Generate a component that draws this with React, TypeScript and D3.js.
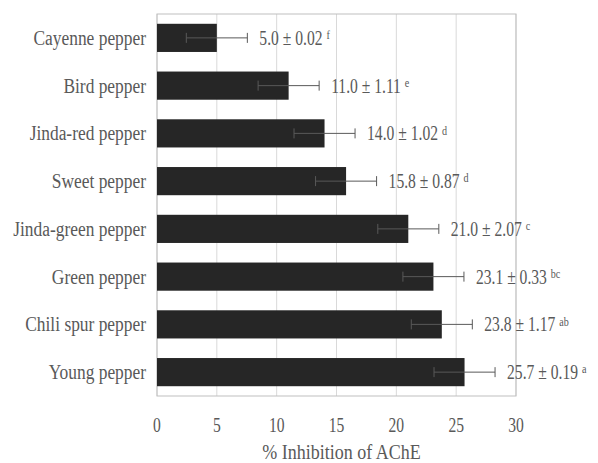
import React from "react";
import * as d3 from "d3";

const categories = [
  "Cayenne pepper",
  "Bird pepper",
  "Jinda-red pepper",
  "Sweet pepper",
  "Jinda-green pepper",
  "Green pepper",
  "Chili spur pepper",
  "Young pepper",
];
const values = [5.0, 11.0, 14.0, 15.8, 21.0, 23.1, 23.8, 25.7];
const sdLabels = ["0.02", "1.11", "1.02", "0.87", "2.07", "0.33", "1.17", "0.19"];
const letters = ["f", "e", "d", "d", "c", "bc", "ab", "a"];
// drawn error bar half-width as seen in the picture
const errBars = [2.55, 2.55, 2.55, 2.55, 2.55, 2.55, 2.55, 2.55];
const xTicks = [0, 5, 10, 15, 20, 25, 30];

const width = 598;
const height = 463;
const margin = { top: 14, right: 82, bottom: 67, left: 157 };
const textColor = "#595959";
const serif = { fontFamily: '"Liberation Serif"' };

// the reference uses a horizontally squeezed Times, so scale text in x
const Cond = ({
  x,
  y,
  sx,
  anchor = "start",
  size = 20,
  children,
}: {
  x: number;
  y: number;
  sx: number;
  anchor?: string;
  size?: number;
  children: React.ReactNode;
}) => (
  <g transform={`translate(${x},${y}) scale(${sx},1)`}>
    <text
      x={0}
      y={0}
      dy="0.35em"
      textAnchor={anchor}
      fontSize={size}
      fill={textColor}
      style={serif}
    >
      {children}
    </text>
  </g>
);

export default function App() {
  const x = d3
    .scaleLinear()
    .domain([0, 30])
    .range([margin.left, width - margin.right]);

  const y = d3
    .scaleBand()
    .domain(categories)
    .range([margin.top, height - margin.bottom])
    .paddingInner(0.41)
    .paddingOuter(0.205);

  const bh = y.bandwidth();

  return (
    <svg
      width={width}
      height={height}
      style={{ position: "absolute", left: 0, top: 0 }}
    >
      <rect width={width} height={height} fill="#fff" />
      {/* grid */}
      {xTicks.map((t) => (
        <line
          key={"g" + t}
          x1={x(t)}
          x2={x(t)}
          y1={margin.top}
          y2={height - margin.bottom}
          stroke="#d9d9d9"
          strokeWidth={1}
        />
      ))}
      {/* plot border */}
      <rect
        x={margin.left}
        y={margin.top}
        width={x(30) - x(0)}
        height={height - margin.bottom - margin.top}
        fill="none"
        stroke="#bfbfbf"
        strokeWidth={1}
      />

      {categories.map((c, i) => {
        const yc = y(c)! + bh / 2;
        const lo = x(values[i] - errBars[i]);
        const hi = x(values[i] + errBars[i]);
        return (
          <g key={c}>
            <rect x={x(0)} y={y(c)} width={x(values[i]) - x(0)} height={bh} fill="#262626" />
            <line x1={lo} x2={hi} y1={yc} y2={yc} stroke="#595959" strokeWidth={1} />
            <line x1={lo} x2={lo} y1={yc - 5} y2={yc + 5} stroke="#595959" strokeWidth={1} />
            <line x1={hi} x2={hi} y1={yc - 5} y2={yc + 5} stroke="#595959" strokeWidth={1} />
            <Cond x={margin.left - 11} y={yc} sx={0.87} anchor="end" size={20}>
              {c}
            </Cond>
            <Cond x={hi + 12} y={yc} sx={0.78} size={20}>
              {values[i].toFixed(1)} ± {sdLabels[i]}
              <tspan dx={5} dy="-0.45em" fontSize={13}>
                {letters[i]}
              </tspan>
            </Cond>
          </g>
        );
      })}

      {xTicks.map((t) => (
        <Cond key={"t" + t} x={x(t)} y={425} sx={0.78} anchor="middle" size={20}>
          {t}
        </Cond>
      ))}
      <Cond x={(x(0) + x(30)) / 2 + 5} y={452} sx={0.9} anchor="middle" size={20}>
        % Inhibition of AChE
      </Cond>
    </svg>
  );
}
